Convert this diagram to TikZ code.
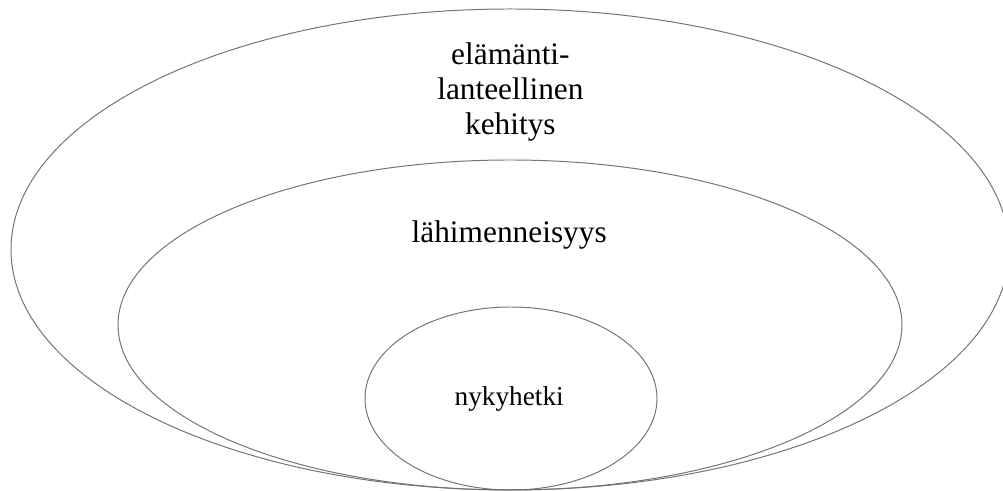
\documentclass[tikz,border=0pt]{standalone}
\usepackage{fontspec}
\setmainfont{Liberation Serif}
\usetikzlibrary{shapes.geometric}

\begin{document}
\begin{tikzpicture}
  \tikzset{ring/.style = {shape=ellipse,draw=black!55,line width=0.7pt,inner sep=0pt}}
  \tikzset{label/.style = {font=\fontsize{22.3}{24.9}\selectfont,align=center,anchor=base}}

  \useasboundingbox (0,0) rectangle (25.075,12.275);

	\node[ring,minimum width=24.95cm,minimum height=12.025cm] (outer) at (12.75,6.0375) {};
	\node[ring,minimum width=19.6cm,minimum height=8.25cm] (mid) at (12.75,4.15) {};
		\node[ring,minimum width=7.3cm,minimum height=4.575cm] (inner) at (12.775,2.3125) {};

	\node[label] (life) at (12.76,8.9) {elämänti-\\lanteellinen\\kehitys};
	\node[label] (past) at (12.73,6.2) {lähimenneisyys};
	\node[label,font=\fontsize{19.4}{22}\selectfont] (now) at (12.73,2.125) {nykyhetki};
\end{tikzpicture}
\end{document}
